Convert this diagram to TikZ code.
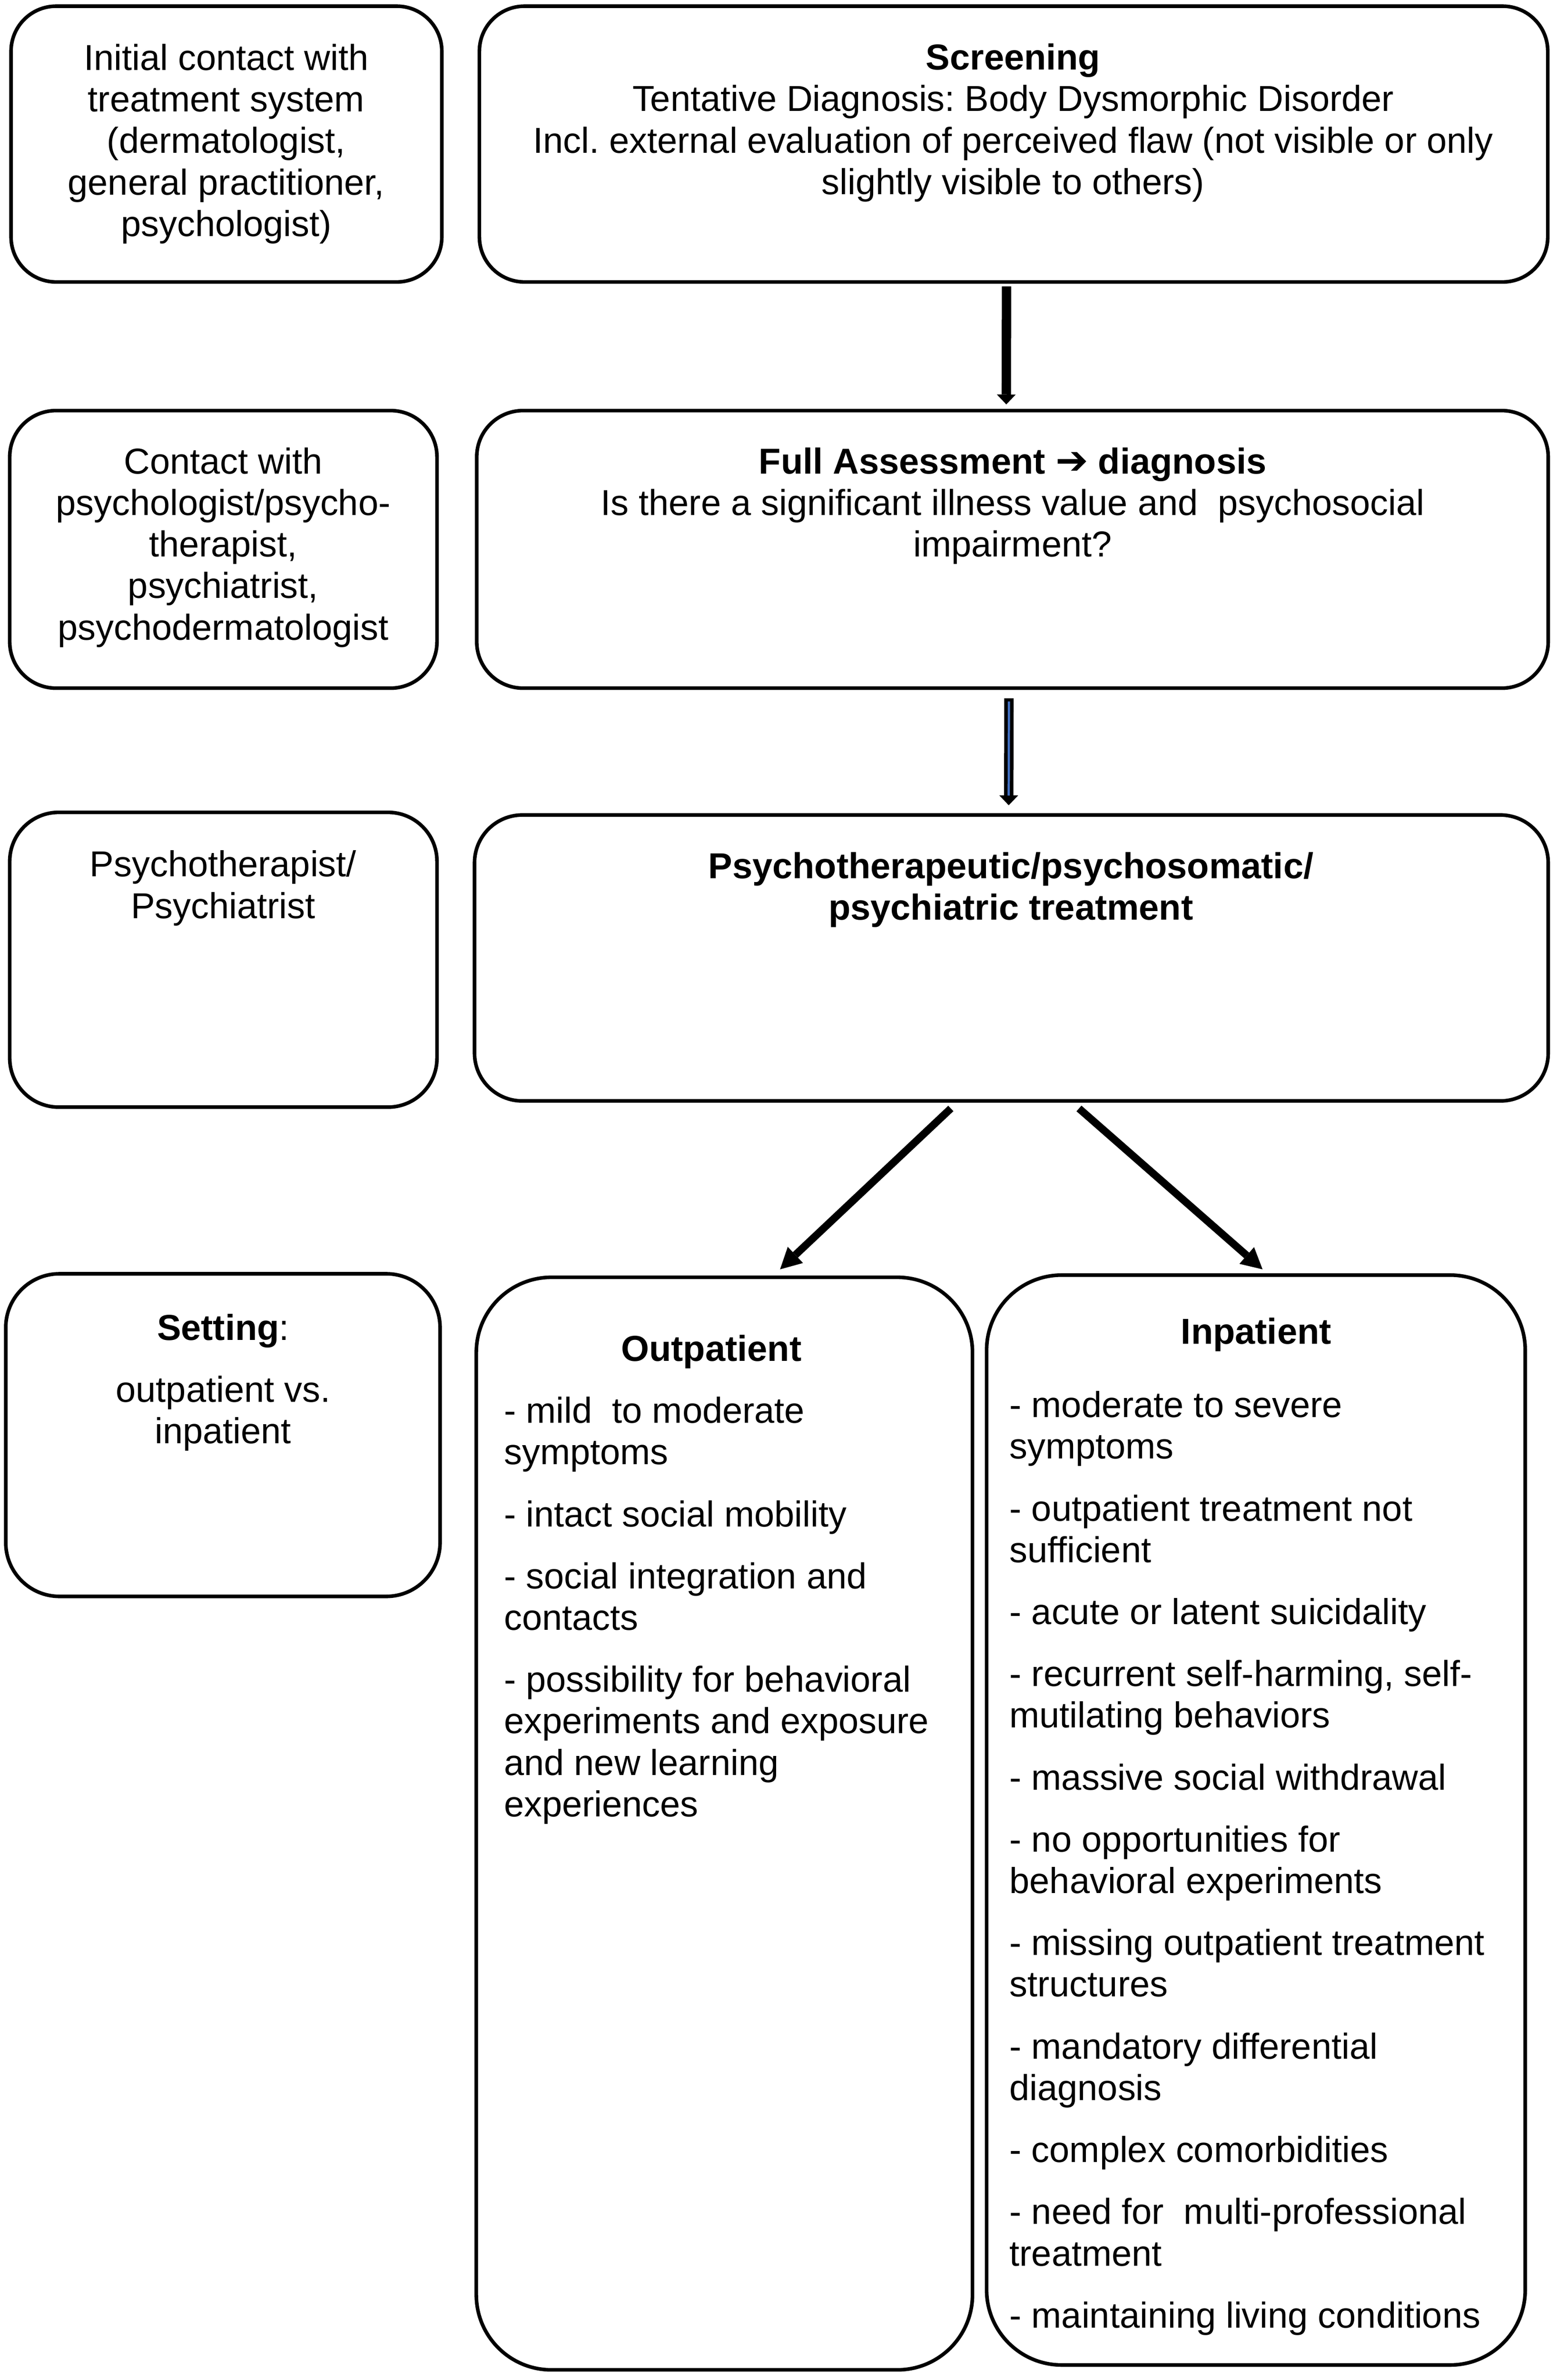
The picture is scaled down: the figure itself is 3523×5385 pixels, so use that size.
\documentclass[tikz,border=0pt]{standalone}
\usepackage{fontspec}
\setmainfont{Liberation Sans}
\newfontfamily\dejavu{DejaVu Sans}
\usetikzlibrary{arrows.meta,fit,calc}
\definecolor{arrowblue}{RGB}{68,114,196}
\frenchspacing
\begin{document}
\begin{tikzpicture}[x=0.14707pt, y=-0.14707pt,
  rbox/.style={draw, line width=1.2pt, inner sep=0pt, outer sep=0pt, rounded corners=#1},
  txt/.style={inner sep=0pt, outer sep=0pt, font=\fontsize{12}{13.82}\selectfont},
  ctxt/.style={txt, align=center, anchor=north},
  ltxt/.style={txt, align=left, anchor=north west},
  ttl/.style={txt, anchor=base, font=\fontsize{12}{13.82}\selectfont\bfseries},
  arrA/.style={line width=3.1pt, -{Triangle[width=6.3pt,length=3.3pt,line width=0pt]}},
  arrD/.style={line width=2.5pt, -{Triangle[width=7.4pt,length=7pt,line width=0pt]}},
  stripe/.style={draw=arrowblue, line width=0.75pt}
]
\useasboundingbox (0,0) rectangle (3523,5385);

% boxes
\node[rbox=15pt,   fit={(25,14) (1000,638)}]     (A) {};
\node[rbox=15pt,   fit={(1085,14) (3503,638)}]   (B) {};
\node[rbox=15.4pt, fit={(22,929) (989,1557)}]    (C) {};
\node[rbox=15.4pt, fit={(1079,929) (3504,1557)}] (D) {};
\node[rbox=16.3pt, fit={(22,1838) (989,2505)}]   (E) {};
\node[rbox=15.9pt, fit={(1074,1844) (3504,2491)}] (F) {};
\node[rbox=17.9pt, fit={(13,2882) (996,3612)}]   (G) {};
\node[rbox=25pt,   fit={(1078,2890) (2201,5362)}] (H) {};
\node[rbox=25pt,   fit={(2233,2885) (3452,5351)}] (I) {};

% texts
\node[ctxt] (tA) at (512,93) {\strut Initial contact with\\treatment system\\(dermatologist,\\general practitioner,\\psychologist)};
\node[ctxt] (tB) at (2293,92) {\strut\textbf{Screening}\\Tentative Diagnosis: Body Dysmorphic Disorder\\Incl. external evaluation of perceived flaw (not visible or only\\slightly visible to others)};
\node[ctxt] (tC) at (505,1006) {\strut Contact with\\psychologist/psycho-\\therapist,\\psychiatrist,\\psychodermatologist};
\node[ctxt] (tD) at (2292,1006) {\strut\textbf{Full Assessment {\dejavu\fontsize{13}{13.82}\selectfont ➔} diagnosis}\\Is there a significant illness value and~ psychosocial\\impairment?};
\node[ctxt] (tE) at (505,1918) {\strut Psychotherapist/\\Psychiatrist};
\node[ctxt] (tF) at (2288,1922) {\strut\textbf{Psychotherapeutic/psychosomatic/}\\\textbf{psychiatric treatment}};
\node[ctxt] (tG) at (505,2966) {\strut\textbf{Setting}:\\[6.8pt]outpatient vs.\\inpatient};

\node[ttl] (tH) at (1610,3080) {Outpatient};
\node[ltxt] (lH) at (1141,3154) {\strut - mild~ to moderate\\symptoms\\[6.8pt]- intact social mobility\\[6.8pt]- social integration and\\contacts\\[6.8pt]- possibility for behavioral\\experiments and exposure\\and new learning\\experiences};

\node[ttl] (tI) at (2843,3041) {Inpatient};
\node[ltxt] (lI) at (2285,3141) {\strut - moderate to severe\\symptoms\\[6.8pt]- outpatient treatment not\\sufficient\\[6.8pt]- acute or latent suicidality\\[6.8pt]- recurrent self-harming, self-\\mutilating behaviors\\[6.8pt]- massive social withdrawal\\[6.8pt]- no opportunities for\\behavioral experiments\\[6.8pt]- missing outpatient treatment\\structures\\[6.8pt]- mandatory differential\\diagnosis\\[6.8pt]- complex comorbidities\\[6.8pt]- need for~ multi-professional\\treatment\\[6.8pt]- maintaining living conditions};

% connectors
\draw[arrA] ($(B.south)+(-16,10)$) -- ($(D.north)+(-14,-14)$);
\draw[arrA] ($(D.south)+(-8,23)$) -- ($(F.north)+(-6,-22)$);
\draw[stripe] ($(D.south)+(-8,30)$) -- ($(F.north)+(-6,-44)$);
\draw[arrD] ($(F.south)+(-137,17)$) -- ($(H.north)+(126,-18)$);
\draw[arrD] ($(F.south)+(153,17)$) -- ($(I.north)+(15,-13)$);
\end{tikzpicture}
\end{document}
